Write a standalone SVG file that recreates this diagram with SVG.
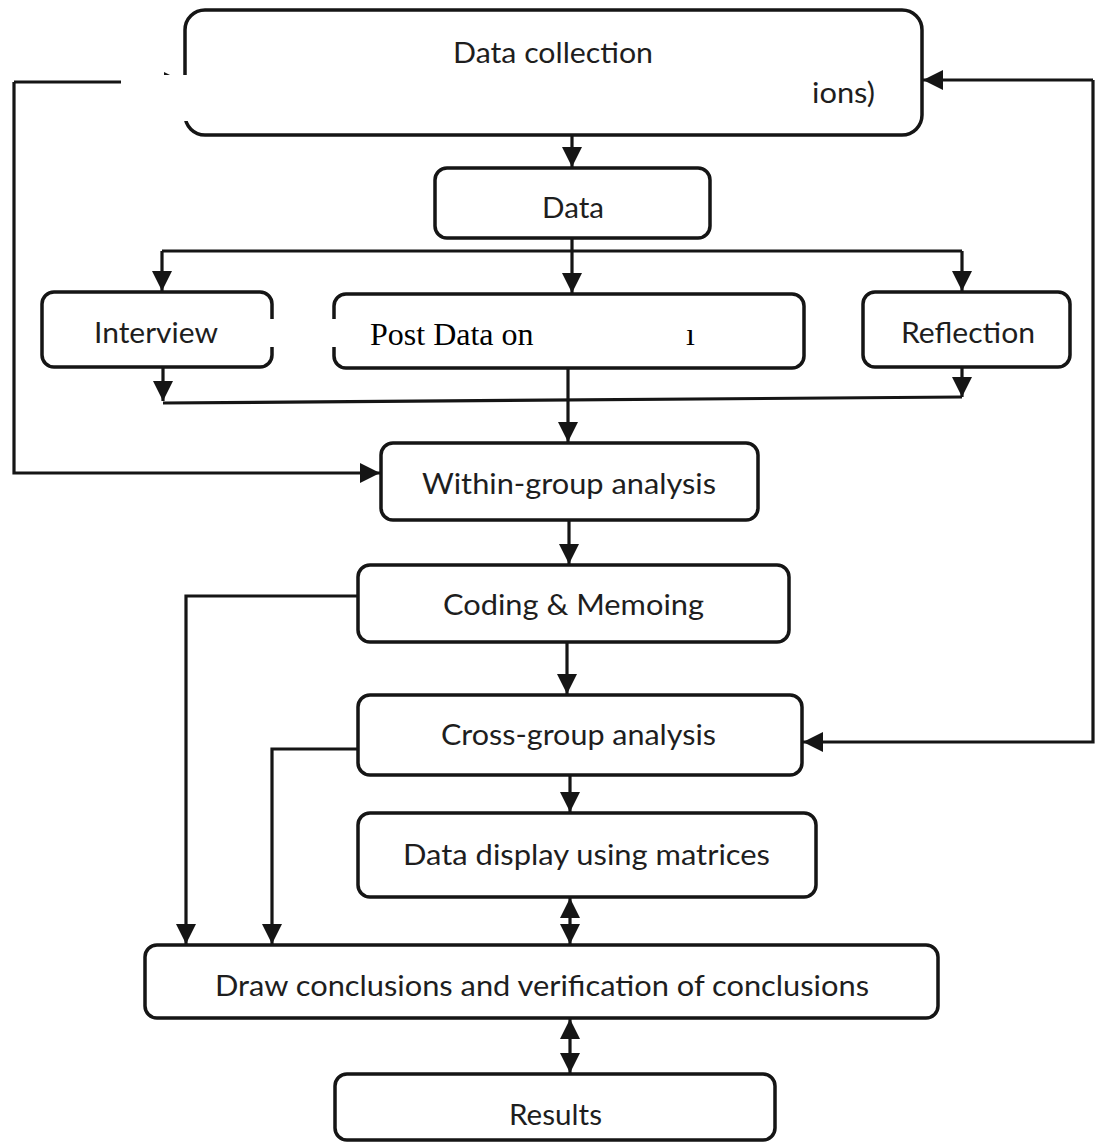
<svg xmlns="http://www.w3.org/2000/svg" width="1095" height="1143" viewBox="0 0 1095 1143">
<style>
.box{fill:#fff;stroke:#151515;stroke-width:3.5}
.ln{fill:none;stroke:#151515;stroke-width:3.2}
.t{font-family:Lato,"Open Sans","Liberation Sans",sans-serif;font-size:28px;fill:#1e1e1e;text-anchor:middle}
.tl{font-family:Lato,"Open Sans","Liberation Sans",sans-serif;font-size:28px;fill:#1e1e1e}
.tr{font-family:"Liberation Serif","Times New Roman",serif;font-size:32px;fill:#000}
.mask{fill:#fff;stroke:none}
</style>
<defs>
<marker id="ah" markerUnits="userSpaceOnUse" markerWidth="20" markerHeight="20" refX="20" refY="10" orient="auto">
<path d="M0,0 L20,10 L0,20 z" fill="#151515"/>
</marker>
<marker id="ahs" markerUnits="userSpaceOnUse" markerWidth="20" markerHeight="20" refX="20" refY="10" orient="auto-start-reverse">
<path d="M0,0 L20,10 L0,20 z" fill="#151515"/>
</marker>
</defs>
<rect width="1095" height="1143" fill="#fff"/>
<g id="connectors">
<path class="ln" d="M572,135 V167" marker-end="url(#ah)"/>
<path class="ln" d="M572,238 V251"/>
<path class="ln" d="M162,251 H962"/>
<path class="ln" d="M162,251 V291" marker-end="url(#ah)"/>
<path class="ln" d="M572,251 V293" marker-end="url(#ah)"/>
<path class="ln" d="M962,251 V291" marker-end="url(#ah)"/>
<path class="ln" d="M163,367 V401" marker-end="url(#ah)"/>
<path class="ln" d="M962,367 V397" marker-end="url(#ah)"/>
<path class="ln" d="M163,403 L962,397"/>
<path class="ln" d="M568,368 V442" marker-end="url(#ah)"/>
<path class="ln" d="M14,82 H184" marker-end="url(#ah)"/>
<path class="ln" d="M14,82 V473 H380" marker-end="url(#ah)"/>
<path class="ln" d="M1093,80 H923" marker-end="url(#ah)"/>
<path class="ln" d="M1093,80 V742 H803" marker-end="url(#ah)"/>
<path class="ln" d="M569,520 V564" marker-end="url(#ah)"/>
<path class="ln" d="M567,642 V694" marker-end="url(#ah)"/>
<path class="ln" d="M358,596 H186 V944" marker-end="url(#ah)"/>
<path class="ln" d="M358,749 H272 V944" marker-end="url(#ah)"/>
<path class="ln" d="M570,775 V812" marker-end="url(#ah)"/>
<path class="ln" d="M570,898 V944" marker-start="url(#ahs)" marker-end="url(#ah)"/>
<path class="ln" d="M570,1019 V1073" marker-start="url(#ahs)" marker-end="url(#ah)"/>
</g>
<g id="data-collection">
<rect class="box" x="185" y="10" width="737" height="125" rx="20"/>
<text class="t" x="553" y="63" textLength="200" lengthAdjust="spacingAndGlyphs">Data collection</text>
<rect class="mask" x="121" y="75" width="685" height="46"/>
<text class="tl" x="812" y="103" textLength="63" lengthAdjust="spacingAndGlyphs">ions)</text>
</g>
<g id="data">
<rect class="box" x="435" y="168" width="275" height="70" rx="12"/>
<text class="t" x="573" y="218" textLength="62" lengthAdjust="spacingAndGlyphs">Data</text>
</g>
<g id="interview">
<rect class="box" x="42" y="292" width="230" height="75" rx="12"/>
<text class="t" x="156" y="343" textLength="124" lengthAdjust="spacingAndGlyphs">Interview</text>
</g>
<g id="post-data">
<rect class="box" x="334" y="294" width="470" height="74" rx="12"/>
<rect class="mask" x="270" y="319" width="416" height="28"/>
<text class="tr" x="370" y="345">Post Data on</text>
<text class="tr" x="686" y="345">ı</text>
</g>
<g id="reflection">
<rect class="box" x="863" y="292" width="207" height="75" rx="12"/>
<text class="t" x="968" y="343" textLength="134" lengthAdjust="spacingAndGlyphs">Reflection</text>
</g>
<g id="within-group">
<rect class="box" x="381" y="443" width="377" height="77" rx="12"/>
<text class="t" x="569" y="494" textLength="294" lengthAdjust="spacingAndGlyphs">Within-group analysis</text>
</g>
<g id="coding">
<rect class="box" x="358" y="565" width="431" height="77" rx="12"/>
<text class="t" x="573.5" y="615" textLength="261" lengthAdjust="spacingAndGlyphs">Coding &amp; Memoing</text>
</g>
<g id="cross-group">
<rect class="box" x="358" y="695" width="444" height="80" rx="12"/>
<text class="t" x="578.5" y="745" textLength="275" lengthAdjust="spacingAndGlyphs">Cross-group analysis</text>
</g>
<g id="data-display">
<rect class="box" x="358" y="813" width="458" height="84" rx="12"/>
<text class="t" x="586.5" y="865" textLength="367" lengthAdjust="spacingAndGlyphs">Data display using matrices</text>
</g>
<g id="draw-conclusions">
<rect class="box" x="145" y="945" width="793" height="73" rx="12"/>
<text class="t" x="542" y="996" textLength="654" lengthAdjust="spacingAndGlyphs">Draw conclusions and verification of conclusions</text>
</g>
<g id="results">
<rect class="box" x="335" y="1074" width="440" height="66" rx="12"/>
<text class="t" x="555.5" y="1125" textLength="93" lengthAdjust="spacingAndGlyphs">Results</text>
</g>
</svg>
